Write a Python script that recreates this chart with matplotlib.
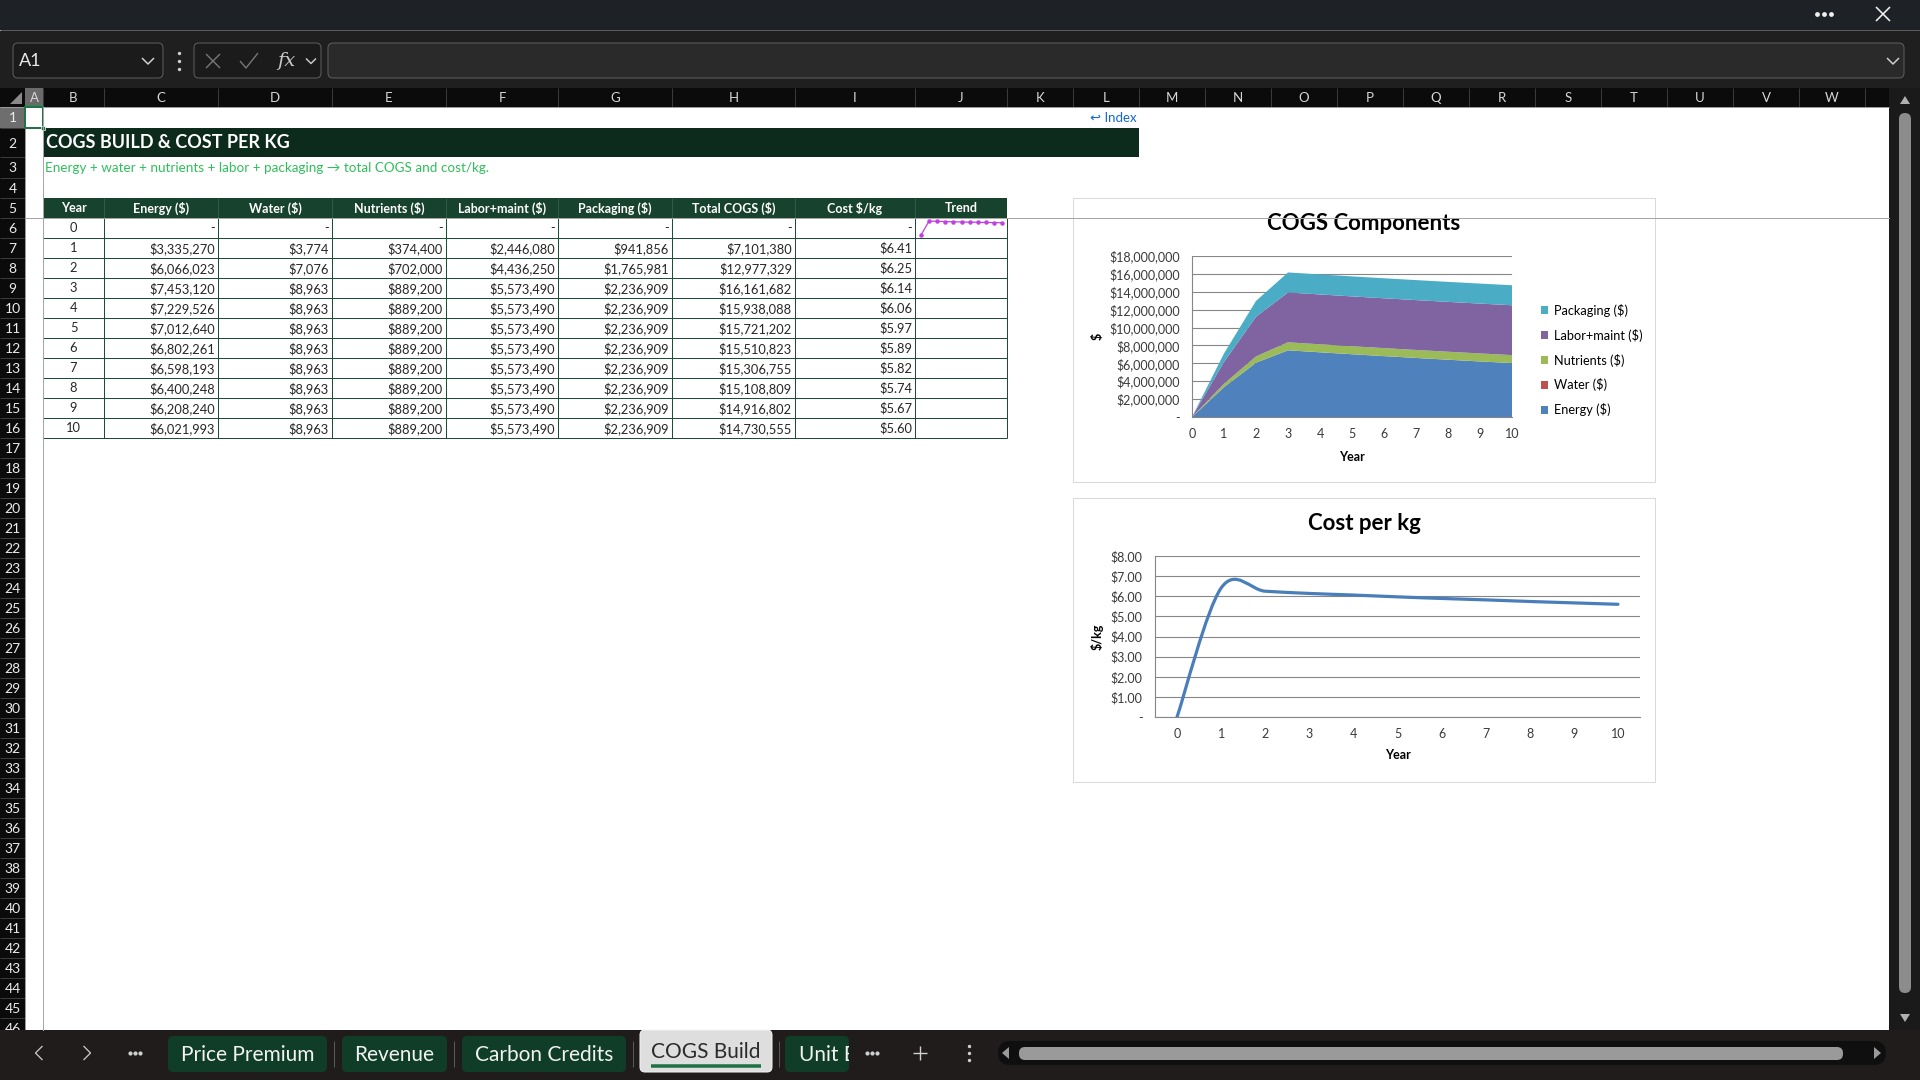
import numpy as np
import matplotlib
matplotlib.use("Agg")
import matplotlib.pyplot as plt
from matplotlib.patches import Rectangle, FancyBboxPatch, Polygon, Patch, PathPatch
from matplotlib.path import Path
from matplotlib.transforms import Bbox, TransformedBbox
from matplotlib.ticker import FuncFormatter, MultipleLocator

plt.rcParams['font.family'] = ['Lato', 'DejaVu Sans']

# ---- data ----
years = [0, 1, 2, 3, 4, 5, 6, 7, 8, 9, 10]
energy = [0, 3335270, 6066023, 7453120, 7229526, 7012640, 6802261, 6598193, 6400248, 6208240, 6021993]
water = [0, 3774, 7076, 8963, 8963, 8963, 8963, 8963, 8963, 8963, 8963]
nutrients = [0, 374400, 702000, 889200, 889200, 889200, 889200, 889200, 889200, 889200, 889200]
labor = [0, 2446080, 4436250, 5573490, 5573490, 5573490, 5573490, 5573490, 5573490, 5573490, 5573490]
packaging = [0, 941856, 1765981, 2236909, 2236909, 2236909, 2236909, 2236909, 2236909, 2236909, 2236909]
total_cogs = [0, 7101380, 12977329, 16161682, 15938088, 15721202, 15510823, 15306755, 15108809, 14916802, 14730555]
cost_kg = [0, 6.41, 6.25, 6.14, 6.06, 5.97, 5.89, 5.82, 5.74, 5.67, 5.60]

table_headers = ['Year', 'Energy ($)', 'Water ($)', 'Nutrients ($)', 'Labor+maint ($)',
                 'Packaging ($)', 'Total COGS ($)', 'Cost $/kg', 'Trend']
series_names = ['Energy ($)', 'Water ($)', 'Nutrients ($)', 'Labor+maint ($)', 'Packaging ($)']
series_colors = ['#4f81bd', '#c0504d', '#9bbb59', '#8064a2', '#4bacc6']
sheet_tabs = ['Price Premium', 'Revenue', 'Carbon Credits', 'COGS Build', 'Unit Economics']
col_letters = list('ABCDEFGHIJKLMNOPQRSTUVW')

# ---- layout in screen pixels ----
W, H = 1920, 1080
col_edges = [25, 43, 104, 218, 332, 446, 558, 672, 795, 915, 1007, 1073, 1139, 1205,
             1271, 1337, 1403, 1469, 1535, 1601, 1667, 1733, 1799, 1865]
row_edges = [107, 128, 157, 178, 198] + [218 + 20 * k for k in range(42)]

fig = plt.figure(figsize=(19.2, 10.8), dpi=100)
bg = fig.add_axes([0, 0, 1, 1])
bg.set_xlim(0, W)
bg.set_ylim(H, 0)
bg.axis('off')

PX = 0.72


def rect(x0, y0, x1, y1, fc, ec='none', lw=0, z=1):
    bg.add_patch(Rectangle((x0, y0), x1 - x0, y1 - y0, facecolor=fc, edgecolor=ec,
                           linewidth=lw * PX, zorder=z))


def rrect(x0, y0, x1, y1, r, fc, ec='none', lw=0, z=1):
    p = FancyBboxPatch((x0, y0), x1 - x0, y1 - y0, boxstyle=f"round,pad=0,rounding_size={r}",
                       facecolor=fc, edgecolor=ec, linewidth=lw * PX, zorder=z)
    bg.add_patch(p)
    return p


def line(xs, ys, c, lw=1, z=2):
    bg.plot(xs, ys, color=c, lw=lw * PX, zorder=z, solid_capstyle='butt')


def chevron(x, y, s, c, direction='down', lw=1.5, z=5):
    if direction == 'down':
        line([x - s, x, x + s], [y - s / 2, y + s / 2, y - s / 2], c, lw, z)
    elif direction == 'left':
        line([x + s / 2, x - s / 2, x + s / 2], [y - s, y, y + s], c, lw, z)
    else:
        line([x - s / 2, x + s / 2, x - s / 2], [y - s, y, y + s], c, lw, z)


def dots(x, y, c, gap=6, z=5, s=9):
    bg.scatter([x - gap, x, x + gap], [y, y, y], s=s, color=c, zorder=z, linewidths=0)


# ---- window chrome ----
rect(0, 0, W, 30, '#1e2125')
line([0, W], [30, 30], '#5a5a5a')
rect(0, 31, W, 88, '#1f1f1f')
dots(1824, 14, '#f0f0f0', 7, s=12)
line([1876, 1890], [7, 21], '#f0f0f0', 1.6)
line([1876, 1890], [21, 7], '#f0f0f0', 1.6)

rrect(13, 43, 163, 78, 5, '#1b1b1b', '#5e5e5e', 1)
bg.text(19, 61, 'A1', color='#e8e8e8', fontsize=13, va='center', ha='left')
chevron(148, 61, 6, '#d0d0d0')
bg.scatter([179, 179, 179], [53, 61, 69], s=6, color='#d0d0d0', zorder=5, linewidths=0)
rrect(194, 43, 321, 78, 5, '#1b1b1b', '#5e5e5e', 1)
line([206, 220], [54, 68], '#777777', 1.4)
line([206, 220], [68, 54], '#777777', 1.4)
line([240, 246, 258], [61, 68, 53], '#777777', 1.4)
bg.text(286, 61, 'fx', color='#c8c8c8', fontsize=14, va='center', ha='center',
        family='DejaVu Serif', style='italic')
chevron(311, 61, 5, '#c8c8c8')
rrect(328, 43, 1904, 78, 5, '#2a2a2a', '#5e5e5e', 1)
chevron(1893, 61, 6, '#d0d0d0')

# ---- column / row headers ----
rect(0, 88, 1889, 107, '#0b0b0b')
bg.add_patch(Polygon([(22, 92), (22, 104), (10, 104)], closed=True, facecolor='#8a8a8a',
                     edgecolor='none', zorder=3))
rect(25, 88, 43, 107, '#6a6a6a', z=2)
line([25, 43], [106, 106], '#2e8b57', 2, 4)
for i, letter in enumerate(col_letters):
    x0, x1 = col_edges[i], col_edges[i + 1]
    line([x1, x1], [88, 107], '#3a3a3a', 1, 3)
    bg.text((x0 + x1) / 2, 97.5, letter, color='#d8d8d8', fontsize=9.5,
            ha='center', va='center', zorder=4)
line([0, 1889], [107, 107], '#9a9a9a', 1, 3)

rect(0, 107, 25, 1030, '#0b0b0b')
rect(25, 107, 1889, 1030, 'white', z=0.5)
rect(0, 107, 25, 128, '#6e6e6e', z=2)
for r in range(len(row_edges) - 1):
    y0, y1 = row_edges[r], row_edges[r + 1]
    line([0, 25], [y1, y1], '#3c3c3c', 1, 3)
    bg.text(12.5, (y0 + y1) / 2 + 1, str(r + 1), color='#ececec', fontsize=10,
            ha='center', va='center', zorder=4)
line([25, 25], [107, 1030], '#9a9a9a', 1, 3)

# ---- sheet content ----
rect(43, 128, 1139, 157, '#0c2b1d', z=2)
bg.text(46, 142.5, 'COGS BUILD & COST PER KG', color='white', fontsize=13,
        fontweight='bold', ha='left', va='center', zorder=3)
bg.text(45, 167.5, 'Energy + water + nutrients + labor + packaging \u2192 total COGS and cost/kg.',
        color='#2fbf5a', fontsize=9.7, ha='left', va='center', zorder=3)
bg.text(1137, 117.5, '\u21a9 Index', color='#1565d0', fontsize=9.5, ha='right', va='center', zorder=3)

# table header row
tb_cols = col_edges[1:11]
rect(tb_cols[0], 198, tb_cols[-1], 218, '#17422d', z=2)
for i, name in enumerate(table_headers):
    x0, x1 = tb_cols[i], tb_cols[i + 1]
    if i > 0:
        line([x0, x0], [198, 218], '#2e5c44', 1, 3)
    bg.text((x0 + x1) / 2, 208.5, name, color='white', fontsize=9, fontweight='bold',
            ha='center', va='center', zorder=4)

value_cols = [energy, water, nutrients, labor, packaging, total_cogs]
for k, yr in enumerate(years):
    yc = 228.5 + 20 * k
    bg.text((tb_cols[0] + tb_cols[1]) / 2, yc, str(yr), color='#262626', fontsize=9.3,
            ha='center', va='center', zorder=4)
    for j, col in enumerate(value_cols):
        v = col[k]
        s = '-' if v == 0 else f'${v:,.0f}'
        bg.text(tb_cols[j + 2] - 3, yc, s, color='#262626', fontsize=9.3,
                ha='right', va='center', zorder=4)
    c = cost_kg[k]
    bg.text(tb_cols[8] - 3, yc, '-' if c == 0 else f'${c:.2f}', color='#262626',
            fontsize=9.3, ha='right', va='center', zorder=4)

grid_c = '#1d4d34'
for k in range(len(years) + 1):
    y = 218 + 20 * k
    line([tb_cols[0], tb_cols[-1]], [y, y], grid_c, 1, 3)
for x in tb_cols:
    line([x, x], [218, 218 + 20 * len(years)], grid_c, 1, 3)

# chart frames
rect(1073, 198, 1655, 482, 'white', '#d9d9d9', 1, 2)
rect(1073, 498, 1655, 782, 'white', '#d9d9d9', 1, 2)
bg.text(1364, 224, 'COGS Components', fontsize=16, fontweight='bold', ha='center',
        va='center', color='black', zorder=5)
bg.text(1364, 524, 'Cost per kg', fontsize=16, fontweight='bold', ha='center',
        va='center', color='black', zorder=5)

# ---- vertical scrollbar ----
rect(1889, 88, W, 1030, '#1a1a1a', z=2)
bg.add_patch(Polygon([(1900, 104), (1910, 104), (1905, 96)], closed=True, facecolor='#b0b0b0',
                     edgecolor='none', zorder=3))
rrect(1899, 113, 1911, 993, 6, '#8c8c8c', z=3)
bg.add_patch(Polygon([(1900, 1014), (1910, 1014), (1905, 1022)], closed=True, facecolor='#b0b0b0',
                     edgecolor='none', zorder=3))

# ---- sheet tab bar ----
rect(0, 1030, W, H, '#211c1c', z=6)
chevron(39, 1053, 7, '#c8c8c8', 'left', 1.3, 7)
chevron(87, 1053, 7, '#c8c8c8', 'right', 1.3, 7)
dots(135, 1053, '#d0d0d0', 5, 7)
tab_pos = [(168, 327), (342, 447), (462, 626), (640, 772), (785, 849)]
for (x0, x1), name in zip(tab_pos, sheet_tabs):
    if name == 'COGS Build':
        rrect(x0, 1030, x1, 1072, 5, '#dedede', '#f4f4f4', 1, 7)
        line([x0 + 11, x1 - 11], [1066, 1066], '#1e7145', 3.5, 8)
        bg.text((x0 + x1) / 2, 1052, name, color='#2b2b2b', fontsize=15,
                ha='center', va='center', zorder=8)
    else:
        rrect(x0, 1036, x1, 1072, 5, '#0f3d28', z=7)
        if x1 - x0 < 80:
            t = bg.text(x0 + 14, 1055, name, color='#f2f2f2', fontsize=15,
                        ha='left', va='center', zorder=8, clip_on=True)
            t.set_clip_box(TransformedBbox(Bbox([[x0, 1036], [x1, 1072]]), bg.transData))
        else:
            bg.text((x0 + x1) / 2, 1055, name, color='#f2f2f2', fontsize=15,
                    ha='center', va='center', zorder=8)
for x in [334, 454, 633, 779]:
    line([x, x], [1041, 1067], '#5a5a5a', 1, 7)
dots(872, 1053, '#d0d0d0', 5, 8)
line([913, 927], [1053, 1053], '#d0d0d0', 1.4, 8)
line([920, 920], [1046, 1060], '#d0d0d0', 1.4, 8)
bg.scatter([969, 969, 969], [1046, 1053, 1060], s=6, color='#d0d0d0', zorder=8, linewidths=0)
rrect(998, 1041, 1886, 1065, 12, '#0f0f0f', z=7)
rrect(1019, 1047, 1843, 1060, 6, '#9a9a9a', z=8)
bg.add_patch(Polygon([(1009, 1047), (1009, 1059), (1002, 1053)], closed=True, facecolor='#9a9a9a',
                     edgecolor='none', zorder=8))
bg.add_patch(Polygon([(1874, 1047), (1874, 1059), (1881, 1053)], closed=True, facecolor='#9a9a9a',
                     edgecolor='none', zorder=8))


def px_axes(x0, y0, x1, y1):
    return fig.add_axes([x0 / W, 1 - y1 / H, (x1 - x0) / W, (y1 - y0) / H])


tick_c = '#3a3a3a'
grid_line = '#868686'

# ---- COGS Components chart ----
ax1 = px_axes(1192, 256, 1512, 417)
ax1.set_facecolor('none')
ax1.stackplot(years, energy, water, nutrients, labor, packaging, colors=series_colors,
              linewidth=0)
ax1.set_xlim(0, 10)
ax1.set_ylim(0, 18000000)
ax1.xaxis.set_major_locator(MultipleLocator(1))
ax1.yaxis.set_major_locator(MultipleLocator(2000000))
ax1.yaxis.set_major_formatter(FuncFormatter(lambda v, p: '-' if v == 0 else f'${v:,.0f}'))
ax1.yaxis.grid(True, color=grid_line, lw=0.8)
ax1.set_axisbelow(True)
for s in ['top', 'right']:
    ax1.spines[s].set_visible(False)
for s in ['left', 'bottom']:
    ax1.spines[s].set_color(grid_line)
    ax1.spines[s].set_linewidth(0.8)
ax1.tick_params(axis='y', length=0, pad=8.5, labelsize=9, labelcolor=tick_c)
ax1.tick_params(axis='x', length=0, pad=8, labelsize=9, labelcolor=tick_c)
ax1.set_xlabel('Year', fontsize=9, fontweight='bold')
ax1.xaxis.set_label_coords(0.5, -0.21)
ax1.set_ylabel('$', fontsize=9, fontweight='bold')
ax1.yaxis.set_label_coords(-0.275, 0.5)
handles = [Patch(facecolor=c, label=n) for n, c in zip(series_names, series_colors)][::-1]
ax1.legend(handles=handles, loc='center left', bbox_to_anchor=(1.09, 0.354), frameon=False,
           fontsize=9.2, handlelength=0.6, handleheight=0.6, handletextpad=0.4,
           labelspacing=0.93, borderaxespad=0, borderpad=0)

# ---- Cost per kg chart ----
ax2 = px_axes(1155, 556, 1640, 717)
ax2.set_facecolor('none')
pts = np.column_stack([years, cost_kg]).astype(float)
verts = [pts[0]]
codes = [Path.MOVETO]
n = len(pts)
for i in range(n - 1):
    p0 = pts[i - 1] if i > 0 else pts[i]
    p1, p2 = pts[i], pts[i + 1]
    p3 = pts[i + 2] if i + 2 < n else pts[i + 1]
    verts += [p1 + (p2 - p0) / 6, p2 - (p3 - p1) / 6, p2]
    codes += [Path.CURVE4] * 3
ax2.add_patch(PathPatch(Path(verts, codes), fill=False, edgecolor='#4a7ebb', lw=2.3,
                        capstyle='round', joinstyle='round', zorder=3))
ax2.set_xlim(-0.5, 10.5)
ax2.set_ylim(0, 8)
ax2.set_xticks(years)
ax2.yaxis.set_major_locator(MultipleLocator(1))
ax2.yaxis.set_major_formatter(FuncFormatter(lambda v, p: '-' if v == 0 else f'${v:.2f}'))
ax2.yaxis.grid(True, color=grid_line, lw=0.8)
ax2.set_axisbelow(True)
for s in ['top', 'right']:
    ax2.spines[s].set_visible(False)
for s in ['left', 'bottom']:
    ax2.spines[s].set_color(grid_line)
    ax2.spines[s].set_linewidth(0.8)
ax2.tick_params(axis='y', length=0, pad=9, labelsize=9, labelcolor=tick_c)
ax2.tick_params(axis='x', length=0, pad=8, labelsize=9, labelcolor=tick_c)
ax2.set_xlabel('Year', fontsize=9, fontweight='bold')
ax2.xaxis.set_label_coords(0.5, -0.20)
ax2.set_ylabel('$/kg', fontsize=9, fontweight='bold')
ax2.yaxis.set_label_coords(-0.106, 0.5)

# ---- sparkline in J6 ----
sp = px_axes(921, 221, 1002, 235)
sp.plot(years, cost_kg, color='#c040e0', lw=0.9, marker='o', markersize=2.2, clip_on=False)
sp.set_xlim(0, 10)
sp.set_ylim(0, max(cost_kg))
sp.axis('off')

# ---- overlay: selection, freeze panes ----
ov = fig.add_axes([0, 0, 1, 1])
ov.set_xlim(0, W)
ov.set_ylim(H, 0)
ov.axis('off')
ov.plot([25, 1889], [218, 218], color='#a6a6a6', lw=1 * PX)
ov.plot([43, 43], [107, 1030], color='#a6a6a6', lw=1 * PX)
ov.add_patch(Rectangle((25, 107), 18, 21, facecolor='none', edgecolor='#217346', lw=2 * PX))
ov.add_patch(Rectangle((41, 126), 4, 4, facecolor='#217346', edgecolor='white', lw=0.5))

fig.savefig('out.png', dpi=100)
